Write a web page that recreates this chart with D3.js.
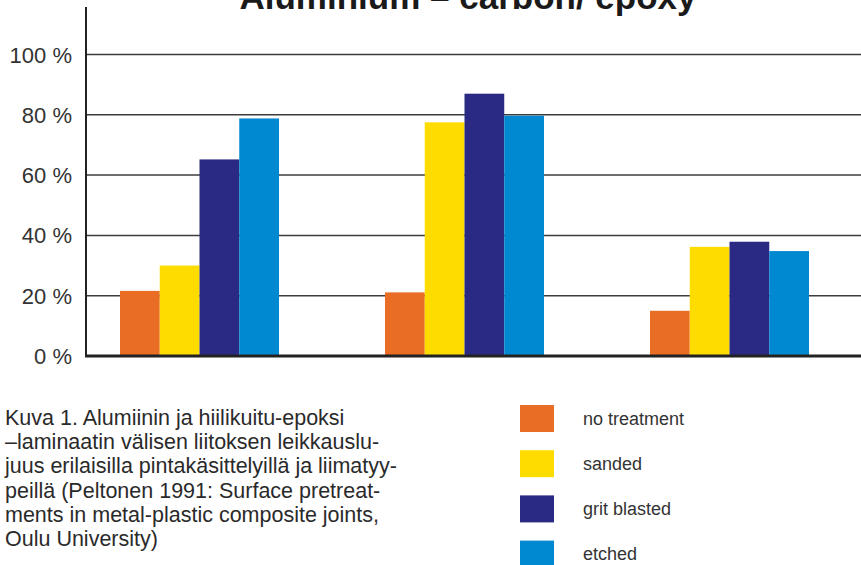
<!DOCTYPE html>
<html>
<head>
<meta charset="utf-8">
<script src="https://cdn.jsdelivr.net/npm/d3@7"></script>
<style>
  body { margin: 0; background: #fff; }
  svg { display: block; font-family: "Liberation Sans", Arial, sans-serif; }
</style>
</head>
<body>
<svg width="861" height="565"></svg>
<script>
// data
var groups = ["A", "B", "C"];
var series = ["no treatment", "sanded", "grit blasted", "etched"];
var colors = ["#e96d25", "#ffdc00", "#2a2a84", "#0088d0"];
var noTreatment = [21.6, 21.1, 15.0];
var sanded = [30.0, 77.5, 36.2];
var gritBlasted = [65.2, 87.0, 37.9];
var etched = [78.8, 79.7, 34.8];
var yTicks = [0, 20, 40, 60, 80, 100];
var captionLines = [
  "Kuva 1. Alumiinin ja hiilikuitu-epoksi",
  "\u2013laminaatin välisen liitoksen leikkauslu-",
  "juus erilaisilla pintakäsittelyillä ja liimatyy-",
  "peillä (Peltonen 1991: Surface pretreat-",
  "ments in metal-plastic composite joints,",
  "Oulu University)"
];

var values = [noTreatment, sanded, gritBlasted, etched];

var svg = d3.select("svg");
var width = +svg.attr("width");

var axisX = 86;
var y = d3.scaleLinear().domain([0, 100]).range([356, 54.5]);

var x0 = d3.scaleBand().domain(groups).range([67, 862]).paddingInner(0.4).paddingOuter(0.2);
var x1 = d3.scaleBand().domain(series).range([0, x0.bandwidth()]);

// title (top is cut off in the original)
svg.append("text")
  .attr("x", 468)
  .attr("y", 9)
  .attr("text-anchor", "middle")
  .attr("font-size", 35)
  .attr("font-weight", "bold")
  .attr("fill", "#1a1a1a")
  .text("Aluminium \u2013 carbon/ epoxy");

// gridlines
svg.append("g")
  .selectAll("line")
  .data(yTicks.filter(function(d) { return d > 0; }))
  .enter()
  .append("line")
  .attr("x1", axisX)
  .attr("x2", width)
  .attr("y1", function(d) { return y(d); })
  .attr("y2", function(d) { return y(d); })
  .attr("stroke", "#3c3c3c")
  .attr("stroke-width", 1.5);

// bars
var seriesData = series.map(function(s, i) {
  return { name: s, color: colors[i], vals: values[i] };
});

svg.append("g")
  .selectAll("g")
  .data(seriesData)
  .enter()
  .append("g")
  .attr("fill", function(d) { return d.color; })
  .selectAll("rect")
  .data(function(d) {
    return d.vals.map(function(v, j) { return { name: d.name, group: groups[j], value: v }; });
  })
  .enter()
  .append("rect")
  .attr("x", function(d) { return x0(d.group) + x1(d.name); })
  .attr("width", x1.bandwidth())
  .attr("y", function(d) { return y(d.value); })
  .attr("height", function(d) { return y(0) - y(d.value); });

// axis lines
svg.append("line")
  .attr("x1", axisX).attr("x2", axisX)
  .attr("y1", 7).attr("y2", 357)
  .attr("stroke", "#222").attr("stroke-width", 2);

svg.append("line")
  .attr("x1", axisX - 1).attr("x2", width)
  .attr("y1", y(0)).attr("y2", y(0))
  .attr("stroke", "#222").attr("stroke-width", 3);

// y labels
svg.append("g")
  .selectAll("text")
  .data(yTicks)
  .enter()
  .append("text")
  .attr("x", 72)
  .attr("y", function(d) { return y(d) + 8; })
  .attr("text-anchor", "end")
  .attr("font-size", 22)
  .attr("fill", "#333")
  .text(function(d) { return d + " %"; });

// caption
svg.append("g")
  .selectAll("text")
  .data(captionLines)
  .enter()
  .append("text")
  .attr("x", 5)
  .attr("y", function(d, i) { return 425 + i * 24.2; })
  .attr("font-size", 21.5)
  .attr("fill", "#2a2a2a")
  .text(function(d) { return d; });

// legend
var legend = svg.append("g")
  .selectAll("g")
  .data(seriesData)
  .enter()
  .append("g")
  .attr("transform", function(d, i) { return "translate(520," + (405 + i * 45.2) + ")"; });

legend.append("rect")
  .attr("width", 34)
  .attr("height", 27)
  .attr("fill", function(d) { return d.color; });

legend.append("text")
  .attr("x", 63)
  .attr("y", 19.5)
  .attr("font-size", 18)
  .attr("fill", "#333")
  .text(function(d) { return d.name; });
</script>
</body>
</html>
